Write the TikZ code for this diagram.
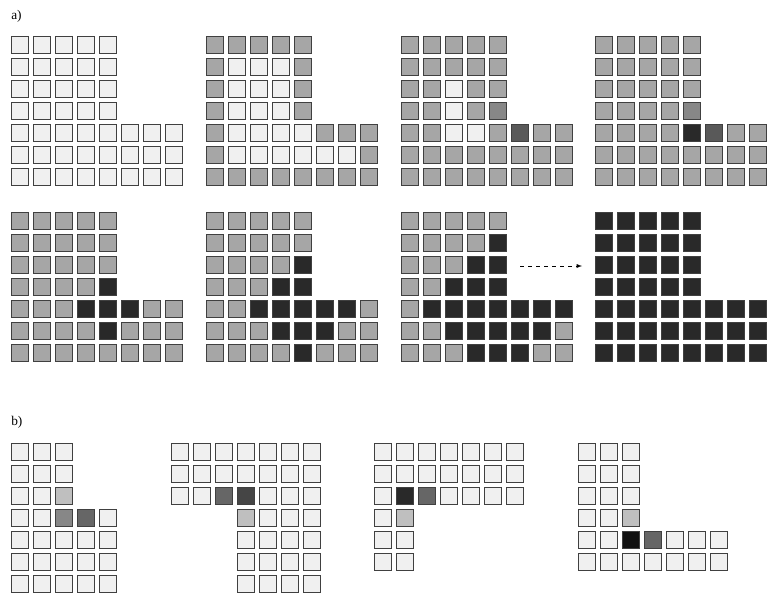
\documentclass[tikz,border=0pt]{standalone}
\usepackage{fontspec}
\setmainfont{Liberation Serif}
\usepackage{xcolor}
\usepackage{tikz}

\definecolor{cL}{gray}{0.94}
\definecolor{cS}{gray}{0.75}
\definecolor{cG}{gray}{0.65}
\definecolor{cM}{gray}{0.53}
\definecolor{cN}{gray}{0.40}
\definecolor{cD}{gray}{0.35}
\definecolor{cE}{gray}{0.27}
\definecolor{cK}{gray}{0.16}
\definecolor{cX}{gray}{0.07}

\tikzset{cell/.style={draw=black!75, line width=1.1pt}}

% one row of cells, #1 = left, #2 = top, #3 = fill colours
\newcommand{\cellrow}[3]{%
  \foreach \cc [count=\i from 0] in {#3}
    \filldraw[cell, fill=\cc] (#1+22*\i+0.75, #2+0.75) rectangle ++(16.8,16.8);
}
% seven rows of one grid
\newcommand{\agrid}[9]{%
  \cellrow{#1}{#2}{#3}
  \cellrow{#1}{#2+22}{#4}
  \cellrow{#1}{#2+44}{#5}
  \cellrow{#1}{#2+66}{#6}
  \cellrow{#1}{#2+88}{#7}
  \cellrow{#1}{#2+110}{#8}
  \cellrow{#1}{#2+132}{#9}
}

\begin{document}
\begin{tikzpicture}[x=0.75pt, y=-0.75pt]
\useasboundingbox (0,0) rectangle (769,597);

\node[anchor=west, inner sep=0pt] (labela) at (11,16) {a)};
\node[anchor=west, inner sep=0pt] (labelb) at (11,422) {b)};

% a) first row
\agrid{11}{36}{cL,cL,cL,cL,cL}{cL,cL,cL,cL,cL}{cL,cL,cL,cL,cL}{cL,cL,cL,cL,cL}
  {cL,cL,cL,cL,cL,cL,cL,cL}{cL,cL,cL,cL,cL,cL,cL,cL}{cL,cL,cL,cL,cL,cL,cL,cL}
\agrid{206}{36}{cG,cG,cG,cG,cG}{cG,cL,cL,cL,cG}{cG,cL,cL,cL,cG}{cG,cL,cL,cL,cG}
  {cG,cL,cL,cL,cL,cG,cG,cG}{cG,cL,cL,cL,cL,cL,cL,cG}{cG,cG,cG,cG,cG,cG,cG,cG}
\agrid{401}{36}{cG,cG,cG,cG,cG}{cG,cG,cG,cG,cG}{cG,cG,cL,cG,cG}{cG,cG,cL,cG,cM}
  {cG,cG,cL,cL,cG,cD,cG,cG}{cG,cG,cG,cG,cG,cG,cG,cG}{cG,cG,cG,cG,cG,cG,cG,cG}
\agrid{595}{36}{cG,cG,cG,cG,cG}{cG,cG,cG,cG,cG}{cG,cG,cG,cG,cG}{cG,cG,cG,cG,cM}
  {cG,cG,cG,cG,cK,cD,cG,cG}{cG,cG,cG,cG,cG,cG,cG,cG}{cG,cG,cG,cG,cG,cG,cG,cG}

% a) second row
\agrid{11}{212}{cG,cG,cG,cG,cG}{cG,cG,cG,cG,cG}{cG,cG,cG,cG,cG}{cG,cG,cG,cG,cK}
  {cG,cG,cG,cK,cK,cK,cG,cG}{cG,cG,cG,cG,cK,cG,cG,cG}{cG,cG,cG,cG,cG,cG,cG,cG}
\agrid{206}{212}{cG,cG,cG,cG,cG}{cG,cG,cG,cG,cG}{cG,cG,cG,cG,cK}{cG,cG,cG,cK,cK}
  {cG,cG,cK,cK,cK,cK,cK,cG}{cG,cG,cG,cK,cK,cK,cG,cG}{cG,cG,cG,cG,cK,cG,cG,cG}
\agrid{401}{212}{cG,cG,cG,cG,cG}{cG,cG,cG,cG,cK}{cG,cG,cG,cK,cK}{cG,cG,cK,cK,cK}
  {cG,cK,cK,cK,cK,cK,cK,cK}{cG,cG,cK,cK,cK,cK,cK,cG}{cG,cG,cG,cK,cK,cK,cG,cG}
\agrid{595}{212}{cK,cK,cK,cK,cK}{cK,cK,cK,cK,cK}{cK,cK,cK,cK,cK}{cK,cK,cK,cK,cK}
  {cK,cK,cK,cK,cK,cK,cK,cK}{cK,cK,cK,cK,cK,cK,cK,cK}{cK,cK,cK,cK,cK,cK,cK,cK}

\coordinate (arrowtail) at (520,266);
\coordinate (arrowhead) at (582,266);
\draw[dashed, -latex] (arrowtail) -- (arrowhead);

% b)
\agrid{11}{443}{cL,cL,cL}{cL,cL,cL}{cL,cL,cS}{cL,cL,cM,cN,cL}
  {cL,cL,cL,cL,cL}{cL,cL,cL,cL,cL}{cL,cL,cL,cL,cL}
\agrid{171}{443}{cL,cL,cL,cL,cL,cL,cL}{cL,cL,cL,cL,cL,cL,cL}{cL,cL,cN,cE,cL,cL,cL}{}{}{}{}
\cellrow{237}{509}{cS,cL,cL,cL}
\cellrow{237}{531}{cL,cL,cL,cL}
\cellrow{237}{553}{cL,cL,cL,cL}
\cellrow{237}{575}{cL,cL,cL,cL}
\cellrow{374}{443}{cL,cL,cL,cL,cL,cL,cL}
\cellrow{374}{465}{cL,cL,cL,cL,cL,cL,cL}
\cellrow{374}{487}{cL,cK,cN,cL,cL,cL,cL}
\cellrow{374}{509}{cL,cS}
\cellrow{374}{531}{cL,cL}
\cellrow{374}{553}{cL,cL}
\cellrow{578}{443}{cL,cL,cL}
\cellrow{578}{465}{cL,cL,cL}
\cellrow{578}{487}{cL,cL,cL}
\cellrow{578}{509}{cL,cL,cS}
\cellrow{578}{531}{cL,cL,cX,cN,cL,cL,cL}
\cellrow{578}{553}{cL,cL,cL,cL,cL,cL,cL}
\end{tikzpicture}
\end{document}
